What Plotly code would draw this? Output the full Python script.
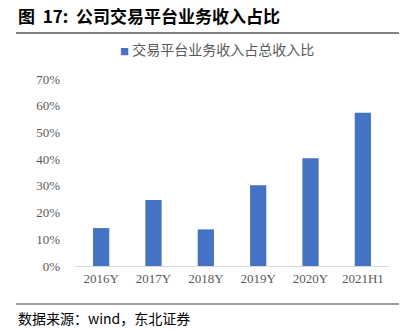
import plotly.graph_objects as go

categories = ["2016Y", "2017Y", "2018Y", "2019Y", "2020Y", "2021H1"]
values = [0.142, 0.247, 0.137, 0.302, 0.403, 0.574]
series_name = "交易平台业务收入占总收入比"
y_ticks = [0, 0.1, 0.2, 0.3, 0.4, 0.5, 0.6, 0.7]
y_tick_labels = ["0%", "10%", "20%", "30%", "40%", "50%", "60%", "70%"]

W, H = 417, 331
L, R, T, B = 75, 28, 79, 65
pw, ph = W - L - R, H - T - B
SERIF = "Liberation Serif, Times New Roman, serif"
BAR_COLOR = "#4472C4"

def px(x):
    return (x - L) / pw

def py(y):
    return (H - B - y) / ph

fig = go.Figure()
fig.add_trace(go.Bar(
    x=categories, y=values, name=series_name,
    marker=dict(color=BAR_COLOR, line=dict(width=0)),
    width=0.31, showlegend=False,
))

fig.update_layout(
    width=W, height=H,
    margin=dict(l=L, r=R, t=T, b=B, pad=0),
    paper_bgcolor="white", plot_bgcolor="white",
    xaxis=dict(showgrid=False, showline=True, linecolor="#D9D9D9", linewidth=1,
               ticks="", tickfont=dict(family=SERIF, size=13, color="#595959"),
               zeroline=False),
    yaxis=dict(range=[0, 0.7], tickvals=y_ticks, ticktext=y_tick_labels,
               showgrid=False, showline=False, zeroline=False, ticks="",
               tickfont=dict(family=SERIF, size=13, color="#595959"),
               ticklabelstandoff=14),
    font=dict(family="Noto Sans CJK SC"),
)

fig.add_annotation(text=f"<span style='color:{BAR_COLOR};font-size:9px'>■</span> {series_name}",
                   xref="paper", yref="paper", x=px(217), y=py(49), xanchor="center", yanchor="middle",
                   showarrow=False, font=dict(family="Noto Sans CJK SC", size=14, color="#595959"))
fig.add_annotation(text="<b>图  17:  公司交易平台业务收入占比</b>", xref="paper", yref="paper",
                   x=px(16), y=py(15), xanchor="left", yanchor="middle", showarrow=False,
                   font=dict(family="Noto Sans CJK SC", size=17, color="#000000"))
fig.add_annotation(text="数据来源：wind，东北证券", xref="paper", yref="paper",
                   x=px(16), y=py(318), xanchor="left", yanchor="middle", showarrow=False,
                   font=dict(family="Noto Sans CJK SC", size=14, color="#000000"))
fig.add_shape(type="line", xref="paper", yref="paper", x0=px(16), x1=px(399), y0=py(33), y1=py(33),
              line=dict(color="#595959", width=1.5))
fig.add_shape(type="line", xref="paper", yref="paper", x0=px(16), x1=px(399), y0=py(304), y1=py(304),
              line=dict(color="#808080", width=1.5))

fig.write_html("out.html")
